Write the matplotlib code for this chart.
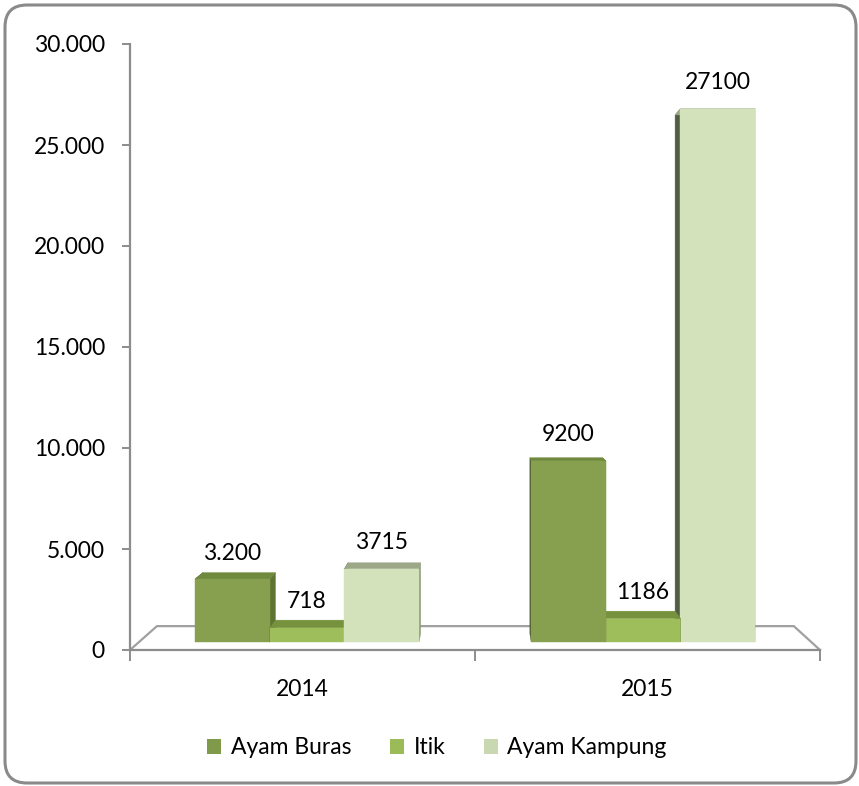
import matplotlib
matplotlib.use("Agg")
import matplotlib.pyplot as plt
from matplotlib.patches import Polygon, FancyBboxPatch, Patch
from matplotlib.transforms import IdentityTransform

# ---------------- data ----------------
years = ["2014", "2015"]
series = ["Ayam Buras", "Itik", "Ayam Kampung"]
ayam_buras = [3200, 9200]
itik = [718, 1186]
ayam_kampung = [3715, 27100]
labels_buras = ["3.200", "9200"]
labels_itik = ["718", "1186"]
labels_kampung = ["3715", "27100"]
yticks = [0, 5000, 10000, 15000, 20000, 25000, 30000]
ytick_labels = ["0", "5.000", "10.000", "15.000", "20.000", "25.000", "30.000"]

values = [ayam_buras, itik, ayam_kampung]
labels = [labels_buras, labels_itik, labels_kampung]

# colours: front, top, right side, left side
colors = [
    dict(front="#86A04F", top="#6F8A3D", right="#5E7433", left="#47572C", legend="#7E9A4A"),
    dict(front="#9DBE5B", top="#76923C", right="#6E8A37", left="#56692F", legend="#9BBB59"),
    dict(front="#D3E2BA", top="#9CA888", right="#8E9A7A", left="#525C45", legend="#C9D8B0"),
]

plt.rcParams['font.family'] = ['Lato', 'DejaVu Sans']
FS = 16.5

W, H = 859, 786
fig = plt.figure(figsize=(W / 100, H / 100), dpi=100)

# main plot box in pixels (from top-left) and perspective vanishing point
L, R, T, B = 130, 820, 44, 650
VX, VY = 480, 340


def rect(f):
    l = L + f * (VX - L)
    r = R + f * (VX - R)
    t = T + f * (VY - T)
    b = B + f * (VY - B)
    return [l / W, 1 - b / H, (r - l) / W, (b - t) / H]


XL = (-0.5, 1.5)
YL = (0, 30000)


def make_axes(f, visible=False):
    a = fig.add_axes(rect(f))
    a.set_xlim(*XL)
    a.set_ylim(*YL)
    a.patch.set_visible(False)
    if not visible:
        a.set_axis_off()
    return a


ax = make_axes(0.0, visible=True)
ax_floor = make_axes(0.077)
ax_back = make_axes(0.052)
ax_front = make_axes(0.026)


def convert(src, dst, pts):
    return dst.transData.inverted().transform(src.transData.transform(pts))


# ---------------- main axes styling ----------------
axis_col = "#8C8C8C"
for s in ["top", "right"]:
    ax.spines[s].set_visible(False)
for s in ["left", "bottom"]:
    ax.spines[s].set_color(axis_col)
    ax.spines[s].set_linewidth(1.6)

ax.set_yticks(yticks)
ax.set_yticklabels(ytick_labels)
ax.tick_params(axis="y", length=6, width=1.4, color=axis_col, pad=12, labelsize=FS)

ax.set_xticks([-0.5, 0.5, 1.5])
ax.set_xticklabels([])
ax.tick_params(axis="x", which="major", length=8, width=1.4, color=axis_col)
ax.set_xticks([0, 1], minor=True)
ax.set_xticklabels(years, minor=True)
ax.tick_params(axis="x", which="minor", length=0, pad=21, labelsize=FS)

# floor outline (back edges)
floor_pts = [(XL[0], 0), (XL[1], 0)]
fb = convert(ax_floor, ax, floor_pts)
ax.plot([XL[0], fb[0][0], fb[1][0], XL[1]], [0, fb[0][1], fb[1][1], 0],
        color="#A0A0A0", lw=1.6, clip_on=False, solid_joinstyle="miter")

# ---------------- bars ----------------
w = 0.222
z = 10
for gi, year in enumerate(years):
    order = [0, 1, 2]
    # draw from far side towards the vanishing point
    xc_group = ax_front.transData.transform((gi, 0))[0]
    if xc_group > VX:
        order = [2, 1, 0]
    for j in order:
        v = values[j][gi]
        xc = gi + (j - 1) * w
        x0, x1 = xc - w / 2, xc + w / 2
        c = colors[j]
        bk = convert(ax_back, ax_front, [(x0, 0), (x0, v), (x1, v), (x1, 0)])
        fr = [(x0, 0), (x0, v), (x1, v), (x1, 0)]
        faces = [
            ([fr[0], fr[1], bk[1], bk[0]], c["left"]),
            ([fr[3], fr[2], bk[2], bk[3]], c["right"]),
            ([fr[1], fr[2], bk[2], bk[1]], c["top"]),
        ]
        for pts, col in faces:
            ax_front.add_patch(Polygon(pts, closed=True, facecolor=col, edgecolor=col,
                                       lw=0.3, zorder=z, clip_on=False))
        z += 1
        ax_front.bar(xc, v, width=w, color=c["front"], edgecolor=c["front"],
                     lw=0.3, zorder=z, clip_on=False)
        z += 1
        ax_front.annotate(labels[j][gi], (xc, v), xytext=(0, 14), textcoords="offset points",
                          ha="center", va="baseline", fontsize=FS, color="#000000",
                          zorder=100, annotation_clip=False)

# ---------------- legend ----------------
handles = [Patch(facecolor=colors[j]["legend"], edgecolor="none") for j in range(3)]
fig.legend(handles, series, loc="center", bbox_to_anchor=(437 / W, 1 - 748 / H), ncol=3,
           frameon=False, fontsize=FS, handlelength=0.62, handleheight=0.62,
           handletextpad=0.4, columnspacing=1.7)

# ---------------- rounded border ----------------
border = FancyBboxPatch((5, 3), 851, 778, boxstyle="round,pad=0,rounding_size=22",
                        transform=IdentityTransform(), facecolor="none",
                        edgecolor="#8A8A8A", lw=2.2)
fig.add_artist(border)

fig.savefig("out.png", dpi=100, facecolor="white")
